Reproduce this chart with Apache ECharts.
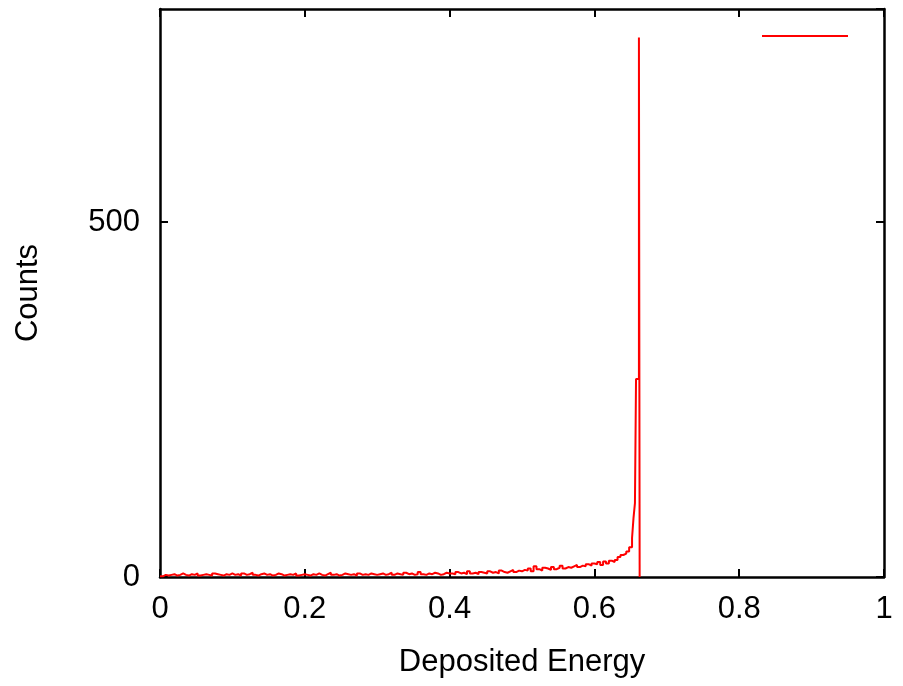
<!DOCTYPE html>
<html>
<head>
<meta charset="utf-8">
<script src="https://cdn.jsdelivr.net/npm/echarts@6/dist/echarts.min.js"></script>
<style>
html,body{margin:0;padding:0;background:#fff;}
#chart{width:903px;height:686px;}
</style>
</head>
<body>
<div id="chart"></div>
<script>
// Histogram of deposited energy (coarse bins of 0.004 from 0 to 0.652)
const binWidth = 0.004;
const coarseCounts = [
  1,3,2,3,4,2,3,5,3,2,4,3,5,2,3,4,3,2,5,4,3,2,4,3,5,
  3,4,2,5,3,4,6,3,2,4,5,3,4,2,3,5,4,2,3,4,3,5,2,3,4,
  3,2,4,3,5,3,2,4,6,3,4,2,3,5,4,3,4,2,5,3,4,3,5,4,3,
  4,5,3,4,6,3,5,4,3,6,4,5,3,4,7,4,3,5,4,6,5,3,4,6,5,
  5,4,7,5,6,4,8,5,6,4,7,6,5,8,6,7,5,9,7,6,8,10,7,9,8,
  10,9,12,8,15,11,9,13,12,10,14,11,13,16,12,14,13,15,17,14,16,15,18,16,19,
  18,21,17,22,19,23,21,24,28,31,33,36,42
];
// Finer bins around the photopeak (left edges) and their counts
const peakEdges = [0.652, 0.654, 0.656, 0.6575, 0.6615, 0.6625];
const peakCounts = [55, 83, 104, 279, 760, 0];

const xTicks = [0, 0.2, 0.4, 0.6, 0.8, 1];
const yTicks = [0, 500];

const histData = coarseCounts.map((c, i) => [+(i * binWidth).toFixed(4), c])
  .concat(peakEdges.map((e, i) => [e, peakCounts[i]]));

const FONT = 'Liberation Sans, Arial, sans-serif';
const axisLine = { show: true, onZero: false, lineStyle: { color: '#000', width: 2.5 } };
const axisTick = { show: true, inside: true, length: 8, lineStyle: { color: '#000', width: 2 } };

const chart = echarts.init(document.getElementById('chart'), null, { renderer: 'canvas' });
chart.setOption({
  animation: false,
  backgroundColor: '#fff',
  grid: { left: 160, right: 19, top: 9, bottom: 109, containLabel: false },
  legend: {
    show: true,
    right: 55, top: 35, padding: 0,
    icon: 'rect', itemWidth: 86, itemHeight: 2,
    formatter: () => '',
    textStyle: { fontSize: 2 },
    data: [' ']
  },
  xAxis: [{
    type: 'value', min: 0, max: 1, interval: 0.2, position: 'bottom',
    axisLine, axisTick, splitLine: { show: false },
    axisLabel: { color: '#000', fontSize: 31, fontFamily: FONT, margin: 17,
      formatter: v => xTicks.includes(+v.toFixed(1)) ? String(+v.toFixed(1)) : '' },
    name: 'Deposited Energy', nameLocation: 'middle', nameGap: 70,
    nameTextStyle: { color: '#000', fontSize: 31, fontFamily: FONT }
  }, {
    type: 'value', min: 0, max: 1, interval: 0.2, position: 'top',
    axisLine, axisTick, splitLine: { show: false }, axisLabel: { show: false }
  }],
  yAxis: [{
    type: 'value', min: 0, max: 800, interval: 500, position: 'left',
    axisLine, axisTick, splitLine: { show: false },
    axisLabel: { color: '#000', fontSize: 31, fontFamily: FONT, margin: 20, showMaxLabel: false,
      formatter: v => yTicks.includes(v) ? String(v) : '' },
    name: 'Counts', nameLocation: 'middle', nameGap: 116, nameRotate: 90,
    nameTextStyle: { color: '#000', fontSize: 31, fontFamily: FONT }
  }, {
    type: 'value', min: 0, max: 800, interval: 500, position: 'right',
    axisLine, axisTick, splitLine: { show: false }, axisLabel: { show: false }
  }],
  series: [{
    name: ' ',
    type: 'line',
    step: 'end',
    showSymbol: false,
    symbol: 'none',
    data: histData,
    lineStyle: { color: '#ff0000', width: 2 },
    itemStyle: { color: '#ff0000' },
    clip: true
  }]
});
</script>
</body>
</html>
